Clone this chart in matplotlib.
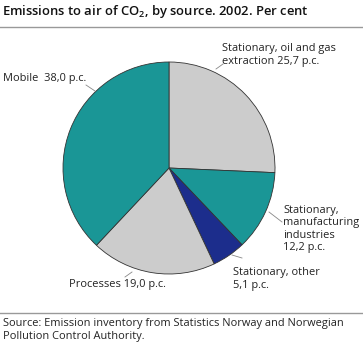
import matplotlib
matplotlib.use('Agg')
import matplotlib.pyplot as plt
from matplotlib.lines import Line2D

plt.rcParams['font.family'] = ['Open Sans', 'DejaVu Sans']

# andel av utslipp, med klokka fra toppen
kilder = ['Stationary, oil and gas\nextraction 25,7 p.c.',
          'Stationary,\nmanufacturing\nindustries\n12,2 p.c.',
          'Stationary, other\n5,1 p.c.',
          'Processes 19,0 p.c.',
          'Mobile  38,0 p.c.']
andel = [25.7, 12.2, 5.1, 19.0, 38.0]
farger = ['#cccccc', '#1a9696', '#1c2d8c', '#cccccc', '#1a9696']

W, H = 363, 346
fig = plt.figure(figsize=(W / 100, H / 100), dpi=100)

def fx(x):
    return x / W

def fy(y):
    return 1 - y / H

# kakediagram
cx, cy, r = 169, 168, 106
ax = fig.add_axes([fx(cx - r), fy(cy + r), 2 * r / W, 2 * r / H])
ax.pie(andel, colors=farger, startangle=90, counterclock=False,
       wedgeprops={'edgecolor': '#333333', 'linewidth': 0.6})
ax.set_xlim(-1.0, 1.0)
ax.set_ylim(-1.0, 1.0)
ax.set_aspect('auto')
ax.axis('off')

# tekster
fs = 7.9
tekst_pos = [(222, 55, 'center'), (283, 229, 'center'), (233, 279, 'center'),
             (69, 285, 'center'), (3, 78, 'center')]
for lab, (x, y, va) in zip(kilder, tekst_pos):
    fig.text(fx(x), fy(y), lab, fontsize=fs, color='#222222', ha='left', va=va,
             linespacing=1.2)

# hjelpelinjer
linjer = [((216, 69), (223, 64)), ((269, 212), (282, 222)), ((232, 255), (242, 258)),
          ((125, 277), (132, 272)), ((86, 85), (95, 91))]
for (x0, y0), (x1, y1) in linjer:
    fig.add_artist(Line2D([fx(x0), fx(x1)], [fy(y0), fy(y1)], color='#888888', lw=0.6))

# tittel og kilde
fig.text(fx(2), fy(11), r'Emissions to air of CO$_\mathregular{2}$, by source. 2002. Per cent',
         fontsize=9.4, fontweight='semibold', ha='left', va='center', color='#111111')
fig.add_artist(Line2D([0, 1], [fy(27), fy(27)], color='#999999', lw=1.0))
fig.add_artist(Line2D([0, 1], [fy(313), fy(313)], color='#999999', lw=1.0))
fig.text(fx(3), fy(330), 'Source: Emission inventory from Statistics Norway and Norwegian\nPollution Control Authority.',
         fontsize=7.9, ha='left', va='center', color='#222222', linespacing=1.2)

fig.savefig('out.png', dpi=100)
